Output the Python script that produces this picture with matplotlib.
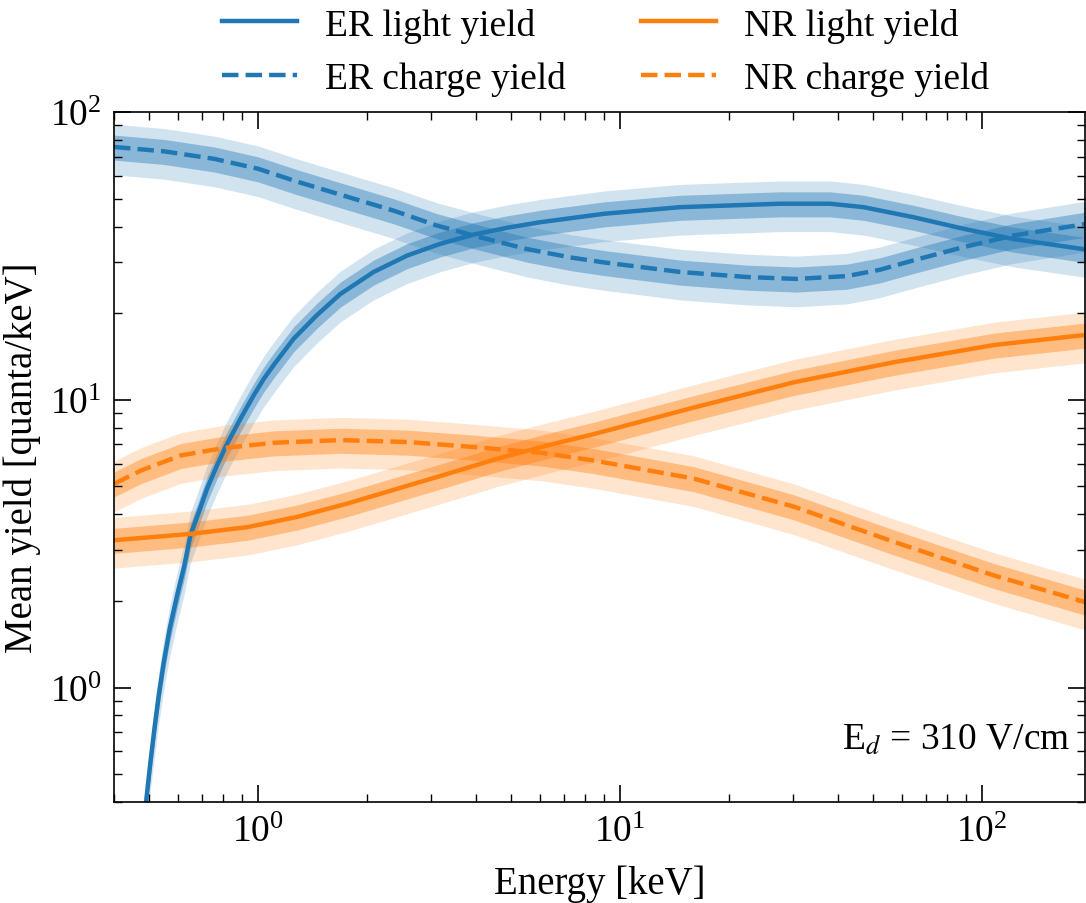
import numpy as np
import matplotlib
matplotlib.use("Agg")
import matplotlib.pyplot as plt

# ---- data ----
er_light_E = [0.485, 0.4916, 0.5044, 0.5173, 0.5317, 0.549, 0.570, 0.5975, 0.626, 0.650, 0.686, 0.723,
              0.770, 0.821, 0.894, 0.972, 1.036, 1.104, 1.254, 1.455, 1.687, 2.085, 2.58, 3.18, 3.94,
              4.87, 6.02, 9.04, 14.66, 27.7, 38.0, 47.0, 64.6, 88.7, 121.8, 193]
er_light_Y = [0.33, 0.412, 0.552, 0.72, 0.94, 1.228, 1.603, 2.09, 2.66, 3.38, 4.07, 4.91,
              5.91, 7.03, 8.59, 10.35, 11.8, 13.2, 16.3, 19.7, 23.3, 27.8, 31.7, 34.8, 37.5,
              39.6, 41.4, 44.3, 46.7, 48.0, 48.0, 46.7, 43.1, 39.3, 36.2, 33.3]

er_charge_E = [0.4, 0.55, 0.758, 1.0, 1.281, 1.76, 2.37, 3.12, 4.11, 5.53, 7.33, 9.04,
               14.66, 22.4, 30.7, 42.3, 52.2, 64.6, 88.7, 121.8, 193]
er_charge_Y = [75.6, 73.0, 68.7, 63.5, 57.3, 50.8, 45.4, 40.3, 36.7, 33.4, 31.2, 30.0,
               27.8, 26.7, 26.3, 26.9, 28.3, 30.5, 33.9, 37.2, 40.8]

nr_light_E = [0.401, 0.653, 0.936, 1.286, 1.767, 2.43, 3.34, 4.58, 6.3, 8.47, 16, 30.2, 57, 108, 193]
nr_light_Y = [3.25, 3.42, 3.61, 3.92, 4.36, 4.91, 5.53, 6.24, 6.94, 7.6, 9.4, 11.5, 13.5, 15.5, 16.8]

nr_charge_E = [0.401, 0.475, 0.613, 0.807, 1.109, 1.694, 2.59, 3.95, 6.04, 8.47, 16, 30.2, 57, 108, 193]
nr_charge_Y = [5.11, 5.68, 6.41, 6.80, 7.09, 7.24, 7.13, 6.85, 6.54, 6.15, 5.32, 4.25, 3.21, 2.45, 1.98]

rel_sigma = 0.1   # relative 1-sigma width of the bands

series = [
    ("ER light yield", er_light_E, er_light_Y, "#1f77b4", "-"),
    ("ER charge yield", er_charge_E, er_charge_Y, "#1f77b4", "--"),
    ("NR light yield", nr_light_E, nr_light_Y, "#ff7f0e", "-"),
    ("NR charge yield", nr_charge_E, nr_charge_Y, "#ff7f0e", "--"),
]

plt.rcParams["font.family"] = ["Liberation Serif", "DejaVu Serif"]
plt.rcParams["mathtext.fontset"] = "stix"

fig = plt.figure(figsize=(10.86, 9.04), dpi=100)
ax = fig.add_axes([0.105, 0.1117, 0.8945, 0.7633])

for label, E, Y, c, ls in series:
    E = np.asarray(E); Y = np.asarray(Y)
    ax.fill_between(E, Y * (1 - 2 * rel_sigma), Y * (1 + 2 * rel_sigma), color=c, alpha=0.2, lw=0)
    ax.fill_between(E, Y * (1 - rel_sigma), Y * (1 + rel_sigma), color=c, alpha=0.4, lw=0)

handles = []
for label, E, Y, c, ls in series:
    h, = ax.plot(E, Y, color=c, ls=ls, lw=3.2, label=label)
    handles.append(h)

ax.set_xscale("log")
ax.set_yscale("log")
ax.set_xlim(0.4, 193)
ax.set_ylim(0.4, 100)

ax.set_xlabel("Energy [keV]", fontsize=28, labelpad=11)
ax.set_ylabel("Mean yield [quanta/keV]", fontsize=28, labelpad=6)

ax.tick_params(which="both", direction="in", top=True, right=True, labelsize=27)
ax.tick_params(which="major", length=12, width=1.2, pad=9)
ax.tick_params(which="minor", length=6, width=1.0)
for s in ax.spines.values():
    s.set_linewidth(1.2)

ax.text(0.985, 0.091, r"E$_{d}$ = 310 V/cm", transform=ax.transAxes, ha="right", va="center", fontsize=27)

ax.legend(handles=handles, loc="lower center", bbox_to_anchor=(0.506, 1.001), ncol=2, frameon=False,
          fontsize=27, handlelength=2.0, handletextpad=0.75, columnspacing=2.0, labelspacing=0.5,
          borderaxespad=0.0)

fig.savefig("out.png", dpi=100)
